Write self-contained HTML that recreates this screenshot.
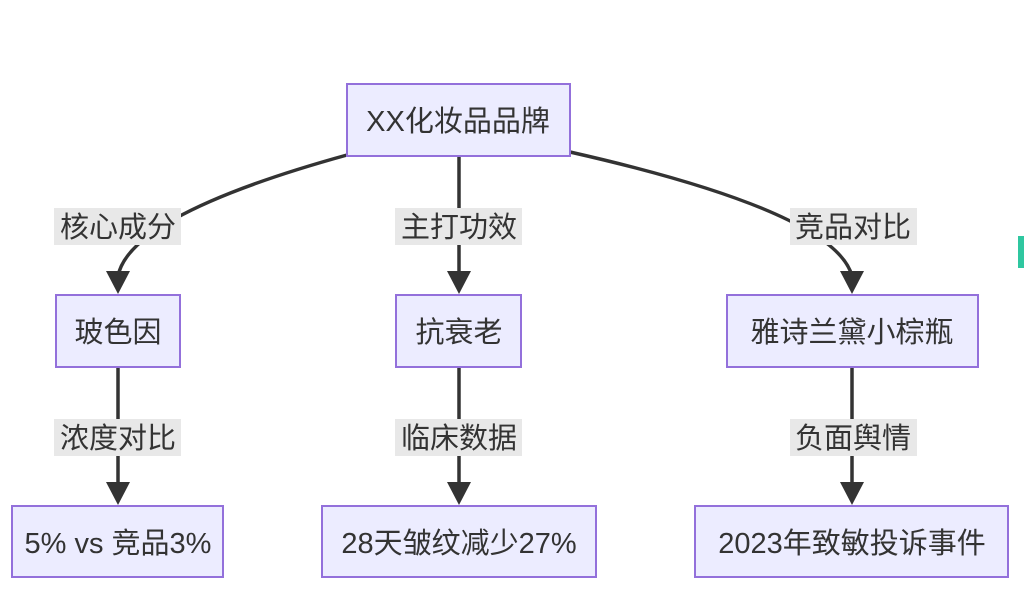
<!DOCTYPE html>
<html><head><meta charset="utf-8"><style>
html,body{margin:0;padding:0;background:#fff;width:1024px;height:613px;overflow:hidden}
text{font-family:"Liberation Sans","Noto Sans CJK SC",sans-serif;font-size:29px;fill:#333}
</style></head><body>
<svg width="1024" height="613" viewBox="0 0 1024 613" xmlns="http://www.w3.org/2000/svg">
<g stroke="#333" stroke-width="3.5" fill="none">
<path d="M347,155 Q130,215 118,276"/>
<path d="M459,156 L459,276"/>
<path d="M570,152 Q835,212 852,276"/>
<path d="M118,367 L118,487"/>
<path d="M459,367 L459,487"/>
<path d="M852,367 L852,487"/>
</g>
<g fill="#333">
<path d="M106,271 L130,271 L118,294z"/>
<path d="M447,271 L471,271 L459,294z"/>
<path d="M840,271 L864,271 L852,294z"/>
<path d="M106,482 L130,482 L118,505z"/>
<path d="M447,482 L471,482 L459,505z"/>
<path d="M840,482 L864,482 L852,505z"/>
</g>
<g fill="#e8e8e8">
<rect x="54" y="208" width="127" height="37"/>
<rect x="395" y="208" width="127" height="37"/>
<rect x="790" y="208" width="127" height="37"/>
<rect x="54" y="419" width="127" height="37"/>
<rect x="395" y="419" width="127" height="37"/>
<rect x="790" y="419" width="127" height="37"/>
</g>
<g text-anchor="middle">
<text x="118" y="237">核心成分</text>
<text x="459" y="237">主打功效</text>
<text x="853" y="237">竞品对比</text>
<text x="118" y="448">浓度对比</text>
<text x="459" y="448">临床数据</text>
<text x="853" y="448">负面舆情</text>
</g>
<g fill="#ececff" stroke="#9370db" stroke-width="2">
<rect x="347" y="84" width="223" height="72"/>
<rect x="56" y="295" width="124" height="72"/>
<rect x="396" y="295" width="125" height="72"/>
<rect x="727" y="295" width="251" height="72"/>
<rect x="12" y="506" width="211" height="71"/>
<rect x="322" y="506" width="274" height="71"/>
<rect x="695" y="506" width="313" height="71"/>
</g>
<g text-anchor="middle">
<text x="458" y="131">XX化妆品品牌</text>
<text x="118" y="342">玻色因</text>
<text x="459" y="342">抗衰老</text>
<text x="852" y="342">雅诗兰黛小棕瓶</text>
<text x="118" y="553">5% vs 竞品3%</text>
<text x="459" y="553">28天皱纹减少27%</text>
<text x="852" y="553">2023年致敏投诉事件</text>
</g>
<rect x="1018" y="236" width="6" height="32" fill="#2fc7a0"/>
</svg>
</body></html>
